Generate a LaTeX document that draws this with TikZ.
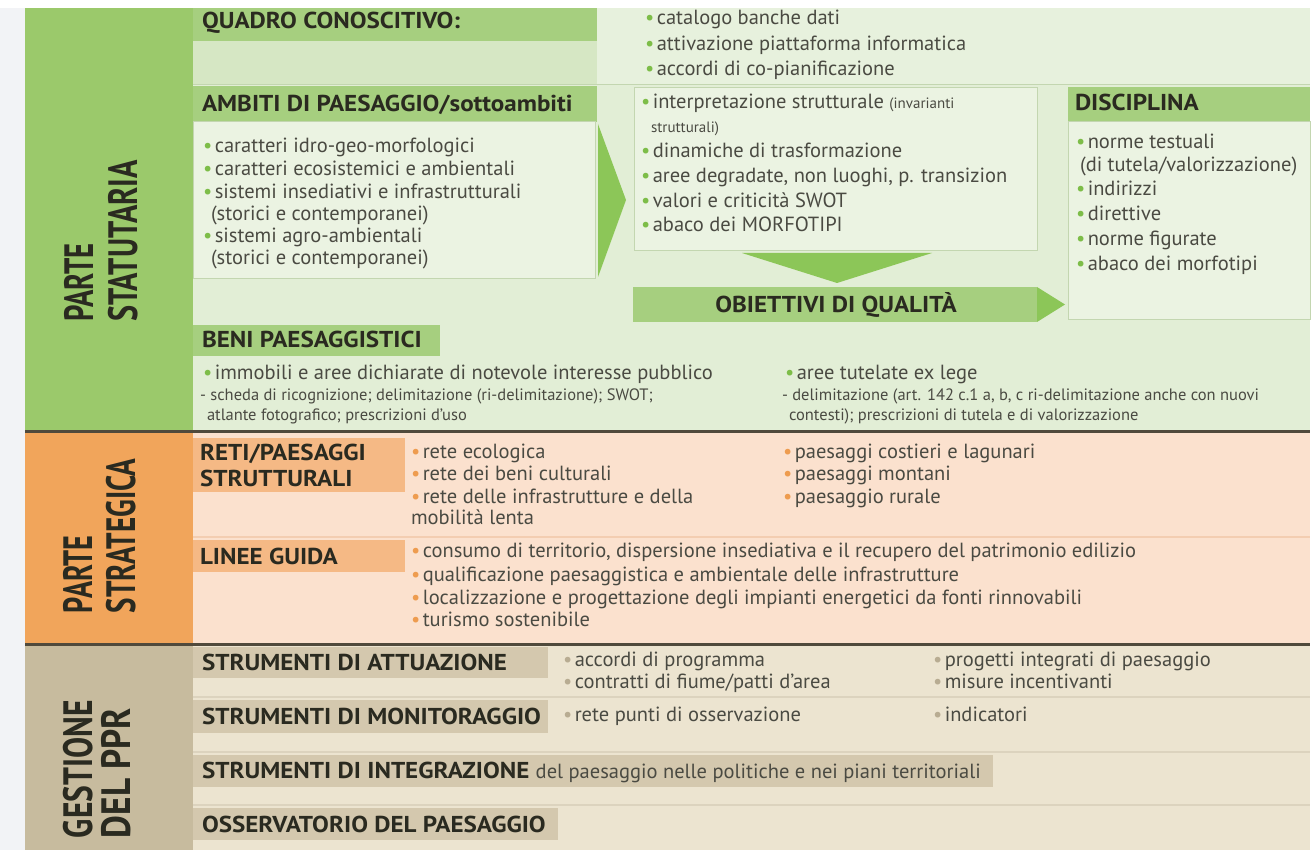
\documentclass[tikz,border=0pt]{standalone}
\usepackage{fontspec}
\setmainfont{PT Sans}
\newfontfamily\hdfont{PT Sans}[FakeStretch=1.09]
\usepackage{xcolor}
\definecolor{colG}{HTML}{9BC96B}
\definecolor{hdrG}{HTML}{A6CF7F}
\definecolor{arrG}{HTML}{8CC658}
\definecolor{bgG}{HTML}{E2EED6}
\definecolor{bandG}{HTML}{D6E7C4}
\definecolor{topG}{HTML}{E7F1DD}
\definecolor{boxG}{HTML}{EBF3E2}
\definecolor{brdG}{HTML}{C3D6B0}
\definecolor{bulG}{HTML}{7DBD48}
\definecolor{colO}{HTML}{F1A55B}
\definecolor{hdrO}{HTML}{F5B985}
\definecolor{bgO}{HTML}{FBE1CE}
\definecolor{sepO}{HTML}{F3CDB1}
\definecolor{bulO}{HTML}{EE9C4F}
\definecolor{colT}{HTML}{C7BB9E}
\definecolor{hdrT}{HTML}{D4C8AE}
\definecolor{bgT}{HTML}{ECE4D0}
\definecolor{sepT}{HTML}{DCD3BE}
\definecolor{bulT}{HTML}{B8AC92}
\definecolor{darkL}{HTML}{504A3C}
\definecolor{txtc}{HTML}{4A4A42}
\definecolor{hdc}{HTML}{2A2A20}
\definecolor{edge}{HTML}{F2F3F6}
\tikzset{
  tx/.style={anchor=base west, inner sep=0pt, outer sep=0pt, text=txtc, font=\fontsize{20.5}{24}\selectfont},
  sm/.style={tx, font=\fontsize{16.5}{19}\selectfont},
  hd/.style={anchor=base west, inner sep=0pt, outer sep=0pt, text=hdc, font=\hdfont\bfseries\fontsize{23}{26}\selectfont},
  rot/.style={rotate=90, anchor=base west, inner sep=0pt, outer sep=0pt, text=hdc, font=\bfseries\fontsize{41}{41}\selectfont},
  sepline/.style={line width=1.5pt},
  darkline/.style={darkL, line width=3pt}
}
\newcommand{\bu}[1]{\textcolor{#1}{\textbullet}\hspace{2.5pt}}
\newcommand{\cmp}[2]{\scalebox{#1}[1]{#2}}
\begin{document}
\begin{tikzpicture}[x=1pt,y=-1pt]
\useasboundingbox (0,0) rectangle (1315,850);
\fill[white] (0,0) rectangle (1315,850);
\fill[edge] (0,8) rectangle (25,850);
% ---------- section backgrounds ----------
\fill[bgG] (193,8) rectangle (1310,431);
\fill[colG] (25,8) rectangle (193,431);
\fill[bgO] (193,431) rectangle (1310,644);
\fill[colO] (25,431) rectangle (193,644);
\fill[bgT] (193,644) rectangle (1310,850);
\fill[colT] (25,644) rectangle (193,850);
% ---------- PARTE STATUTARIA ----------
\fill[topG] (597,8) rectangle (1310,84);
\fill[hdrG] (193,8) rectangle (597,41);
\fill[bandG] (193,41) rectangle (597,84);
\draw[brdG, line width=1pt] (193,84.5) -- (1310,84.5);
\fill[hdrG] (193,86) rectangle (597,122);
\fill[boxG, draw=brdG, line width=1pt] (193,122) rectangle (595,279);
\fill[arrG] (598,124) -- (626,200) -- (598,277) -- cycle;
\fill[boxG, draw=brdG, line width=1pt] (634,88) rectangle (1037,251);
\fill[arrG] (742,253) -- (932,253) -- (837,283) -- cycle;
\fill[hdrG] (633,287) rectangle (1037,322);
\fill[arrG] (1037,287) -- (1065,304.5) -- (1037,322) -- cycle;
\fill[hdrG] (1068,87) rectangle (1310,122);
\fill[boxG, draw=brdG, line width=1pt] (1068,122) rectangle (1310,320);
\fill[hdrG] (193,325) rectangle (440,356);

\node[rot] (ps1) at (93,322) {\cmp{0.70}{PARTE}};
\node[rot] (ps2) at (137,322) {\cmp{0.74}{STATUTARIA}};

\node[hd] (qh) at (202,29) {QUADRO CONOSCITIVO:};
\node[tx] (q1) at (645,25) {\bu{bulG}catalogo banche dati};
\node[tx] (q2) at (645,51) {\bu{bulG}attivazione piattaforma informatica};
\node[tx] (q3) at (645,76) {\bu{bulG}accordi di co-pianificazione};

\node[hd] (ah) at (202,112) {AMBITI DI PAESAGGIO/sottoambiti};
\node[tx] (a1) at (203,153) {\bu{bulG}caratteri idro-geo-morfologici};
\node[tx] (a2) at (203,176) {\bu{bulG}caratteri ecosistemici e ambientali};
\node[tx] (a3) at (203,199) {\bu{bulG}sistemi insediativi e infrastrutturali};
\node[tx] (a4) at (211,221) {(storici e contemporanei)};
\node[tx] (a5) at (203,243) {\bu{bulG}sistemi agro-ambientali};
\node[tx] (a6) at (211,265) {(storici e contemporanei)};

\node[tx] (m1) at (641,109) {\bu{bulG}interpretazione strutturale {\fontsize{15}{18}\selectfont(invarianti}};
\node[tx, font=\fontsize{15}{18}\selectfont] (m2) at (651,133) {strutturali)};
\node[tx] (m3) at (641,158) {\bu{bulG}dinamiche di trasformazione};
\node[tx] (m4) at (641,183) {\bu{bulG}aree degradate, non luoghi, p. transizion};
\node[tx] (m5) at (641,208) {\bu{bulG}valori e criticità SWOT};
\node[tx] (m6) at (641,232) {\bu{bulG}abaco dei MORFOTIPI};

\node[hd, anchor=base] (oh) at (836,313) {OBIETTIVI DI QUALITÀ};

\node[hd] (dh) at (1075,111) {DISCIPLINA};
\node[tx] (d1) at (1076,149) {\bu{bulG}norme testuali};
\node[tx] (d2) at (1080,172) {(di tutela/valorizzazione)};
\node[tx] (d3) at (1076,196) {\bu{bulG}indirizzi};
\node[tx] (d4) at (1076,221) {\bu{bulG}direttive};
\node[tx] (d5) at (1076,246) {\bu{bulG}norme figurate};
\node[tx] (d6) at (1076,271) {\bu{bulG}abaco dei morfotipi};

\node[hd] (bh) at (202,348) {BENI PAESAGGISTICI};
\node[tx] (b1) at (203,379) {\bu{bulG}immobili e aree dichiarate di notevole interesse pubblico};
\node[sm] (b2) at (200,400) {- scheda di ricognizione; delimitazione (ri-delimitazione); SWOT;};
\node[sm] (b3) at (207,420) {atlante fotografico; prescrizioni d'uso};
\node[tx] (b4) at (785,379) {\bu{bulG}aree tutelate ex lege};
\node[sm] (b5) at (782,400) {- delimitazione (art. 142 c.1 a, b, c ri-delimitazione anche con nuovi};
\node[sm] (b6) at (789,420) {contesti); prescrizioni di tutela e di valorizzazione};

% ---------- PARTE STRATEGICA ----------
\fill[hdrO] (193,438) rectangle (405,492);
\draw[sepO, sepline] (193,537) -- (1310,537);
\fill[hdrO] (193,540) rectangle (405,572);

\node[rot] (pr1) at (92,613) {\cmp{0.69}{PARTE}};
\node[rot] (pr2) at (135,613) {\cmp{0.71}{STRATEGICA}};

\node[hd] (rh1) at (200,460) {RETI/PAESAGGI};
\node[hd] (rh2) at (200,486) {STRUTTURALI};
\node[tx] (r1) at (411,458) {\bu{bulO}rete ecologica};
\node[tx] (r2) at (411,480) {\bu{bulO}rete dei beni culturali};
\node[tx] (r3) at (411,503) {\bu{bulO}rete delle infrastrutture e della};
\node[tx] (r4) at (411,524) {mobilità lenta};
\node[tx] (r5) at (783,458) {\bu{bulO}paesaggi costieri e lagunari};
\node[tx] (r6) at (783,480) {\bu{bulO}paesaggi montani};
\node[tx] (r7) at (783,503) {\bu{bulO}paesaggio rurale};

\node[hd] (lh) at (200,564) {LINEE GUIDA};
\node[tx] (l1) at (411,557) {\bu{bulO}consumo di territorio, dispersione insediativa e il recupero del patrimonio edilizio};
\node[tx] (l2) at (411,581) {\bu{bulO}qualificazione paesaggistica e ambientale delle infrastrutture};
\node[tx] (l3) at (411,604) {\bu{bulO}localizzazione e progettazione degli impianti energetici da fonti rinnovabili};
\node[tx] (l4) at (411,626) {\bu{bulO}turismo sostenibile};

% ---------- GESTIONE DEL PPR ----------
\fill[hdrT] (193,647) rectangle (548,678);
\draw[sepT, sepline] (193,697) -- (1310,697);
\fill[hdrT] (193,700) rectangle (548,733);
\draw[sepT, sepline] (193,752) -- (1310,752);
\fill[hdrT] (193,755) rectangle (993,787);
\draw[sepT, sepline] (193,805) -- (1310,805);
\fill[hdrT] (193,808) rectangle (558,840);

\node[rot] (pg1) at (92,838) {\cmp{0.77}{GESTIONE}};
\node[rot] (pg2) at (130,838) {\cmp{0.86}{DEL PPR}};

\node[hd] (sh1) at (202,670) {STRUMENTI DI ATTUAZIONE};
\node[tx] (s1) at (563,666) {\bu{bulT}accordi di programma};
\node[tx] (s2) at (563,688) {\bu{bulT}contratti di fiume/patti d'area};
\node[tx] (s3) at (933,666) {\bu{bulT}progetti integrati di paesaggio};
\node[tx] (s4) at (933,688) {\bu{bulT}misure incentivanti};

\node[hd] (sh2) at (202,724) {STRUMENTI DI MONITORAGGIO};
\node[tx] (s5) at (563,721) {\bu{bulT}rete punti di osservazione};
\node[tx] (s6) at (933,721) {\bu{bulT}indicatori};

\node[hd] (sh3) at (202,778) {STRUMENTI DI INTEGRAZIONE {\normalfont\color{txtc}\fontsize{20.5}{24}\selectfont del paesaggio nelle politiche e nei piani territoriali}};

\node[hd] (sh4) at (202,832) {OSSERVATORIO DEL PAESAGGIO};

% ---------- separators ----------
\draw[darkline] (25,431) -- (1310,431);
\draw[darkline] (25,644) -- (1310,644);
\end{tikzpicture}
\end{document}
